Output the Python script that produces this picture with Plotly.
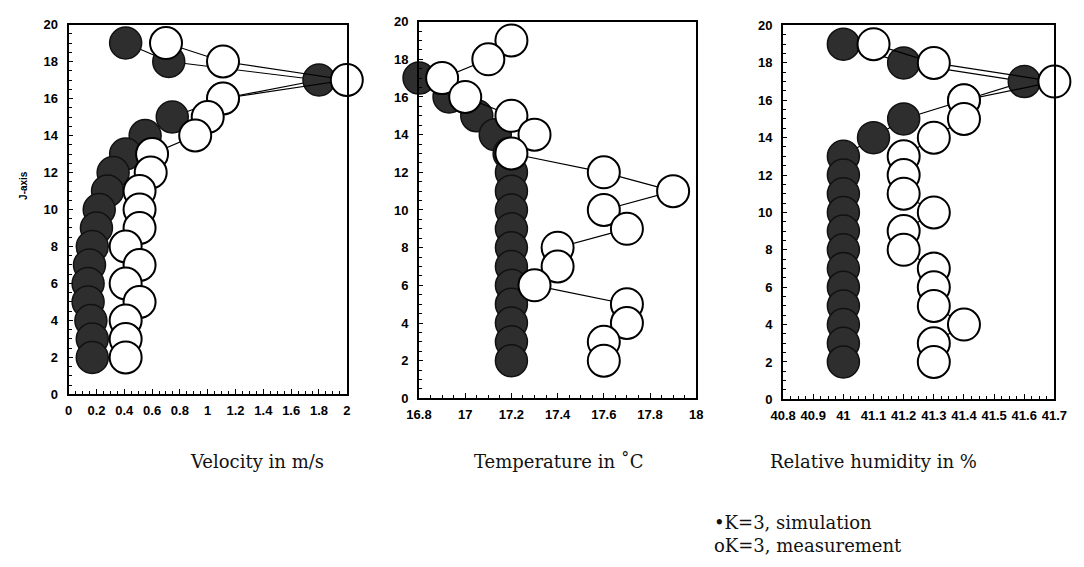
import plotly.graph_objects as go

# ---------------- data ----------------
j_sim_vel = [19, 18, 17, 16, 15, 14, 13, 12, 11, 10, 9, 8, 7, 6, 5, 4, 3, 2]
vel_sim = [0.41, 0.72, 1.80, 1.11, 0.745, 0.55, 0.41, 0.32, 0.28, 0.22, 0.20, 0.17, 0.15, 0.14, 0.14, 0.16, 0.17, 0.17]
j_meas = [19, 18, 17, 16, 15, 14, 13, 12, 11, 10, 9, 8, 7, 6, 5, 4, 3, 2]
vel_meas = [0.70, 1.11, 2.00, 1.11, 1.00, 0.91, 0.60, 0.59, 0.51, 0.51, 0.51, 0.41, 0.51, 0.41, 0.51, 0.41, 0.41, 0.41]

j_sim_temp = [17, 16, 15, 14, 13, 12, 11, 10, 9, 8, 7, 6, 5, 4, 3, 2]
temp_sim = [16.80, 16.93, 17.05, 17.13, 17.19, 17.2, 17.2, 17.2, 17.2, 17.2, 17.2, 17.2, 17.2, 17.2, 17.2, 17.2]
temp_meas = [17.2, 17.1, 16.9, 17.0, 17.2, 17.3, 17.2, 17.6, 17.9, 17.6, 17.7, 17.4, 17.4, 17.3, 17.7, 17.7, 17.6, 17.6]

j_sim_hum = [19, 18, 17, 16, 15, 14, 13, 12, 11, 10, 9, 8, 7, 6, 5, 4, 3, 2]
hum_sim = [41.0, 41.2, 41.6, 41.4, 41.2, 41.1, 41.0, 41.0, 41.0, 41.0, 41.0, 41.0, 41.0, 41.0, 41.0, 41.0, 41.0, 41.0]
hum_meas = [41.1, 41.3, 41.7, 41.4, 41.4, 41.3, 41.2, 41.2, 41.2, 41.3, 41.2, 41.2, 41.3, 41.3, 41.3, 41.4, 41.3, 41.3]

y_ticks = [0, 2, 4, 6, 8, 10, 12, 14, 16, 18, 20]
vel_ticks = [0, 0.2, 0.4, 0.6, 0.8, 1, 1.2, 1.4, 1.6, 1.8, 2]
vel_ticktext = ["0", "0.2", "0.4", "0.6", "0.8", "1", "1.2", "1.4", "1.6", "1.8", "2"]
temp_ticks = [16.8, 17, 17.2, 17.4, 17.6, 17.8, 18]
temp_ticktext = ["16.8", "17", "17.2", "17.4", "17.6", "17.8", "18"]
hum_ticks = [40.8, 40.9, 41, 41.1, 41.2, 41.3, 41.4, 41.5, 41.6, 41.7]
hum_ticktext = ["40.8", "40.9", "41", "41.1", "41.2", "41.3", "41.4", "41.5", "41.6", "41.7"]

x_titles = ["Velocity in m/s", "Temperature in \u02daC", "Relative humidity in %"]
legend_lines = ["\u2022K=3, simulation", "oK=3, measurement"]

# ---------------- styling ----------------
W, H = 1084, 567
FILL = "#2e2e2e"
MSIZE = 32

def px_x(p):
    return p / W

def px_y(p):
    return (H - p) / H

fig = go.Figure()

panels = [
    (vel_sim, j_sim_vel, vel_meas, j_meas, "x", "y"),
    (temp_sim, j_sim_temp, temp_meas, j_meas, "x2", "y2"),
    (hum_sim, j_sim_hum, hum_meas, j_meas, "x3", "y3"),
]
for xs, ys, xm, ym, xa, ya in panels:
    fig.add_trace(go.Scatter(
        x=xs, y=ys, xaxis=xa, yaxis=ya, mode="lines+markers",
        line=dict(color="black", width=1.2),
        marker=dict(symbol="circle", size=MSIZE, color=FILL,
                    line=dict(color="#111111", width=1.5)),
        cliponaxis=False, showlegend=False, hoverinfo="skip"))
    fig.add_trace(go.Scatter(
        x=xm, y=ym, xaxis=xa, yaxis=ya, mode="lines+markers",
        line=dict(color="black", width=1.2),
        marker=dict(symbol="circle", size=MSIZE, color="white",
                    line=dict(color="black", width=2)),
        cliponaxis=False, showlegend=False, hoverinfo="skip"))

tick_font = dict(family="Liberation Sans", size=13, color="black", weight="bold")

def xaxis_cfg(domain, rng, vals, text, minor_dt):
    return dict(domain=domain, range=rng, tickmode="array", tickvals=vals, ticktext=text,
                showgrid=False, zeroline=False, showline=True, linecolor="black",
                linewidth=2, mirror=True, ticks="inside", ticklen=5, tickwidth=1,
                tickcolor="black", tickfont=tick_font, ticklabelstandoff=3,
                minor=dict(ticks="inside", ticklen=3, tickwidth=1, dtick=minor_dt,
                           tickcolor="black", showgrid=False))

def yaxis_cfg(domain, anchor):
    return dict(domain=domain, range=[0, 20], anchor=anchor, tickmode="array",
                tickvals=y_ticks, showgrid=False, zeroline=False, showline=True,
                linecolor="black", linewidth=2, mirror=True, ticks="inside", ticklen=4,
                tickwidth=1, tickcolor="black", tickfont=tick_font, ticklabelstandoff=6,
                minor=dict(ticks="inside", ticklen=3, tickwidth=1, dtick=0.5,
                           tickcolor="black", showgrid=False))

fig.update_layout(
    width=W, height=H,
    margin=dict(l=0, r=0, t=0, b=0),
    paper_bgcolor="white", plot_bgcolor="white",
    xaxis=dict(**xaxis_cfg([px_x(57), px_x(342)], [0, 2], vel_ticks, vel_ticktext, 0.05), anchor="y"),
    yaxis=yaxis_cfg([px_y(398), px_y(18)], "x"),
    xaxis2=dict(**xaxis_cfg([px_x(416), px_x(700)], [16.8, 18], temp_ticks, temp_ticktext, 0.05), anchor="y2"),
    yaxis2=yaxis_cfg([px_y(402), px_y(15)], "x2"),
    xaxis3=dict(**xaxis_cfg([px_x(789), px_x(1067)], [40.8, 41.7], hum_ticks, hum_ticktext, 0.025), anchor="y3"),
    yaxis3=yaxis_cfg([px_y(403), px_y(19)], "x3"),
)

serif = dict(family="DejaVu Serif", size=18, color="#111111")
for cx, t in zip([250, 559, 882], x_titles):
    fig.add_annotation(x=px_x(cx), y=px_y(467), xref="paper", yref="paper",
                       text=t, showarrow=False, font=serif, xanchor="center", yanchor="middle")

for cy, t in zip([530, 553], legend_lines):
    fig.add_annotation(x=px_x(716), y=px_y(cy), xref="paper", yref="paper",
                       text=t, showarrow=False, font=serif, xanchor="left", yanchor="middle")

fig.add_annotation(x=px_x(10), y=px_y(183), xref="paper", yref="paper", text="J-axis",
                   showarrow=False, textangle=-90,
                   font=dict(family="Liberation Sans", size=10, color="black", weight="bold"),
                   xanchor="center", yanchor="middle")

fig.write_html("out.html")
